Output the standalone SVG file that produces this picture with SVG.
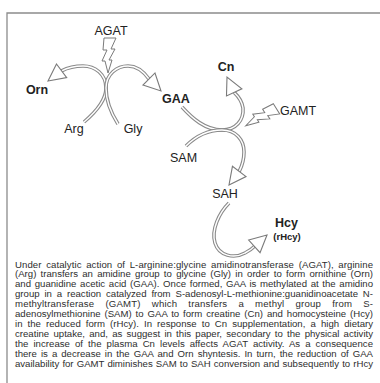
<svg xmlns="http://www.w3.org/2000/svg" width="380" height="383" viewBox="0 0 380 383">
<style>
.lbl{font-family:"Liberation Sans",Arial,sans-serif;font-size:12.5px;fill:#222;text-anchor:middle}
.b{font-weight:bold}
.outer{fill:none;stroke:#8a8a8a;stroke-width:3.6}
.inner{fill:none;stroke:#fff;stroke-width:1.4}
.head{fill:#fff;stroke:#7a7a7a;stroke-width:1.1;stroke-linejoin:miter}
.bolt{fill:#fff;stroke:#7a7a7a;stroke-width:1}
.para{font-family:"Liberation Sans",Arial,sans-serif;font-size:9.6px;fill:#2e2e2e}
</style>
<defs>
<polygon id="ah" points="0,0 -17,-8.5 -17,8.5"/>
<polygon id="bt" points="-5,0 7,0 2,11 6,11 0,22 3,22 -1,35 -4,23 -7,23 -2,12 -6,12"/>
</defs>
<rect x="0" y="0" width="380" height="383" fill="#fff"/>
<path d="M7,383 V13 H380" fill="none" stroke="#8c8c8c" stroke-width="1.3"/>

<g id="connectors">
<g id="c-arg-orn">
<path class="outer" d="M84,122 C97,111 106,100 106,88 C106,74 95,66 83,66 C74,66 67,68 61.6,70.8"/>
<path class="inner" d="M84,122 C97,111 106,100 106,88 C106,74 95,66 83,66 C74,66 67,68 61.6,70.8"/>
<use href="#ah" class="head" transform="translate(48,81) rotate(143)"/>
</g>
<g id="c-gly-gaa">
<path class="outer" d="M118,124 C111,113 106,100 106,88 C106,74 117,66 128,66 C137,66 144,72 149,79"/>
<path class="inner" d="M118,124 C111,113 106,100 106,88 C106,74 117,66 128,66 C137,66 144,72 149,79"/>
<use href="#ah" class="head" transform="translate(161,91) rotate(45)"/>
</g>
<g id="c-gaa-cn">
<path class="outer" d="M182,107 C192,118 205,130 222,130 C236,130 244,120 243,108 C242,101 238,96 234.2,92.4"/>
<path class="inner" d="M182,107 C192,118 205,130 222,130 C236,130 244,120 243,108 C242,101 238,96 234.2,92.4"/>
<use href="#ah" class="head" transform="translate(227,77) rotate(-115)"/>
</g>
<g id="c-sam-sah">
<path class="outer" d="M186,146 C195,137 208,130 222,130 C236,130 244,140 244,152 C244,161 242,166 239.2,171.4"/>
<path class="inner" d="M186,146 C195,137 208,130 222,130 C236,130 244,140 244,152 C244,161 242,166 239.2,171.4"/>
<use href="#ah" class="head" transform="translate(229,185) rotate(127)"/>
</g>
<g id="c-sah-hcy">
<path class="outer" d="M229,203 C219,213 211,230 215,243 C219,256 234,259 245,253 C249,251 252,249 254.4,246.4"/>
<path class="inner" d="M229,203 C219,213 211,230 215,243 C219,256 234,259 245,253 C249,251 252,249 254.4,246.4"/>
<use href="#ah" class="head" transform="translate(267,235) rotate(-42)"/>
</g>
</g>

<g id="agat"><use href="#bt" class="bolt" transform="translate(109,38)"/><text class="lbl" x="111" y="35">AGAT</text></g>
<g id="gamt"><use href="#bt" class="bolt" transform="translate(276,108) rotate(58)"/><text class="lbl" x="298" y="115">GAMT</text></g>
<g id="orn"><text class="lbl b" x="37" y="94">Orn</text></g>
<g id="gaa"><text class="lbl b" x="176" y="103">GAA</text></g>
<g id="arg"><text class="lbl" x="74" y="133">Arg</text></g>
<g id="gly"><text class="lbl" x="133" y="133">Gly</text></g>
<g id="cn"><text class="lbl b" x="226" y="71">Cn</text></g>
<g id="sam"><text class="lbl" x="183.5" y="162">SAM</text></g>
<g id="sah"><text class="lbl" x="225" y="198">SAH</text></g>
<g id="hcy"><text class="lbl b" x="286.5" y="227">Hcy</text><text class="lbl b" x="287" y="240" style="font-size:9.5px">(rHcy)</text></g>

<g id="caption" class="para">
<text x="15" y="267.5" word-spacing="1.9" textLength="358" lengthAdjust="spacing">Under catalytic action of L-arginine:glycine amidinotransferase (AGAT), arginine</text>
<text x="15" y="277.4" word-spacing="1.6" textLength="358" lengthAdjust="spacing">(Arg) transfers an amidine group to glycine (Gly) in order to form ornithine (Orn)</text>
<text x="15" y="287.3" word-spacing="1.0" textLength="358" lengthAdjust="spacing">and guanidine acetic acid (GAA). Once formed, GAA is methylated at the amidino</text>
<text x="15" y="297.2" word-spacing="2.2" textLength="358" lengthAdjust="spacing">group in a reaction catalyzed from S-adenosyl-L-methionine:guanidinoacetate N-</text>
<text x="15" y="307.1" word-spacing="8.3" textLength="358" lengthAdjust="spacing">methyltransferase (GAMT) which transfers a methyl group from S-</text>
<text x="15" y="317" word-spacing="1.2" textLength="358" lengthAdjust="spacing">adenosylmethionine (SAM) to GAA to form creatine (Cn) and homocysteine (Hcy)</text>
<text x="15" y="326.9" word-spacing="2.4" textLength="358" lengthAdjust="spacing">in the reduced form (rHcy). In response to Cn supplementation, a high dietary</text>
<text x="15" y="336.8" word-spacing="1.55" textLength="358" lengthAdjust="spacing">creatine uptake, and, as suggest in this paper, secondary to the physical activity</text>
<text x="15" y="346.7" word-spacing="2.3" textLength="358" lengthAdjust="spacing">the increase of the plasma Cn levels affects AGAT activity. As a consequence</text>
<text x="15" y="356.6" word-spacing="1.35" textLength="358" lengthAdjust="spacing">there is a decrease in the GAA and Orn shyntesis. In turn, the reduction of GAA</text>
<text x="15" y="366.5" word-spacing="0.5" textLength="358" lengthAdjust="spacing">availability for GAMT diminishes SAM to SAH conversion and subsequently to rHcy</text>
</g>
</svg>
